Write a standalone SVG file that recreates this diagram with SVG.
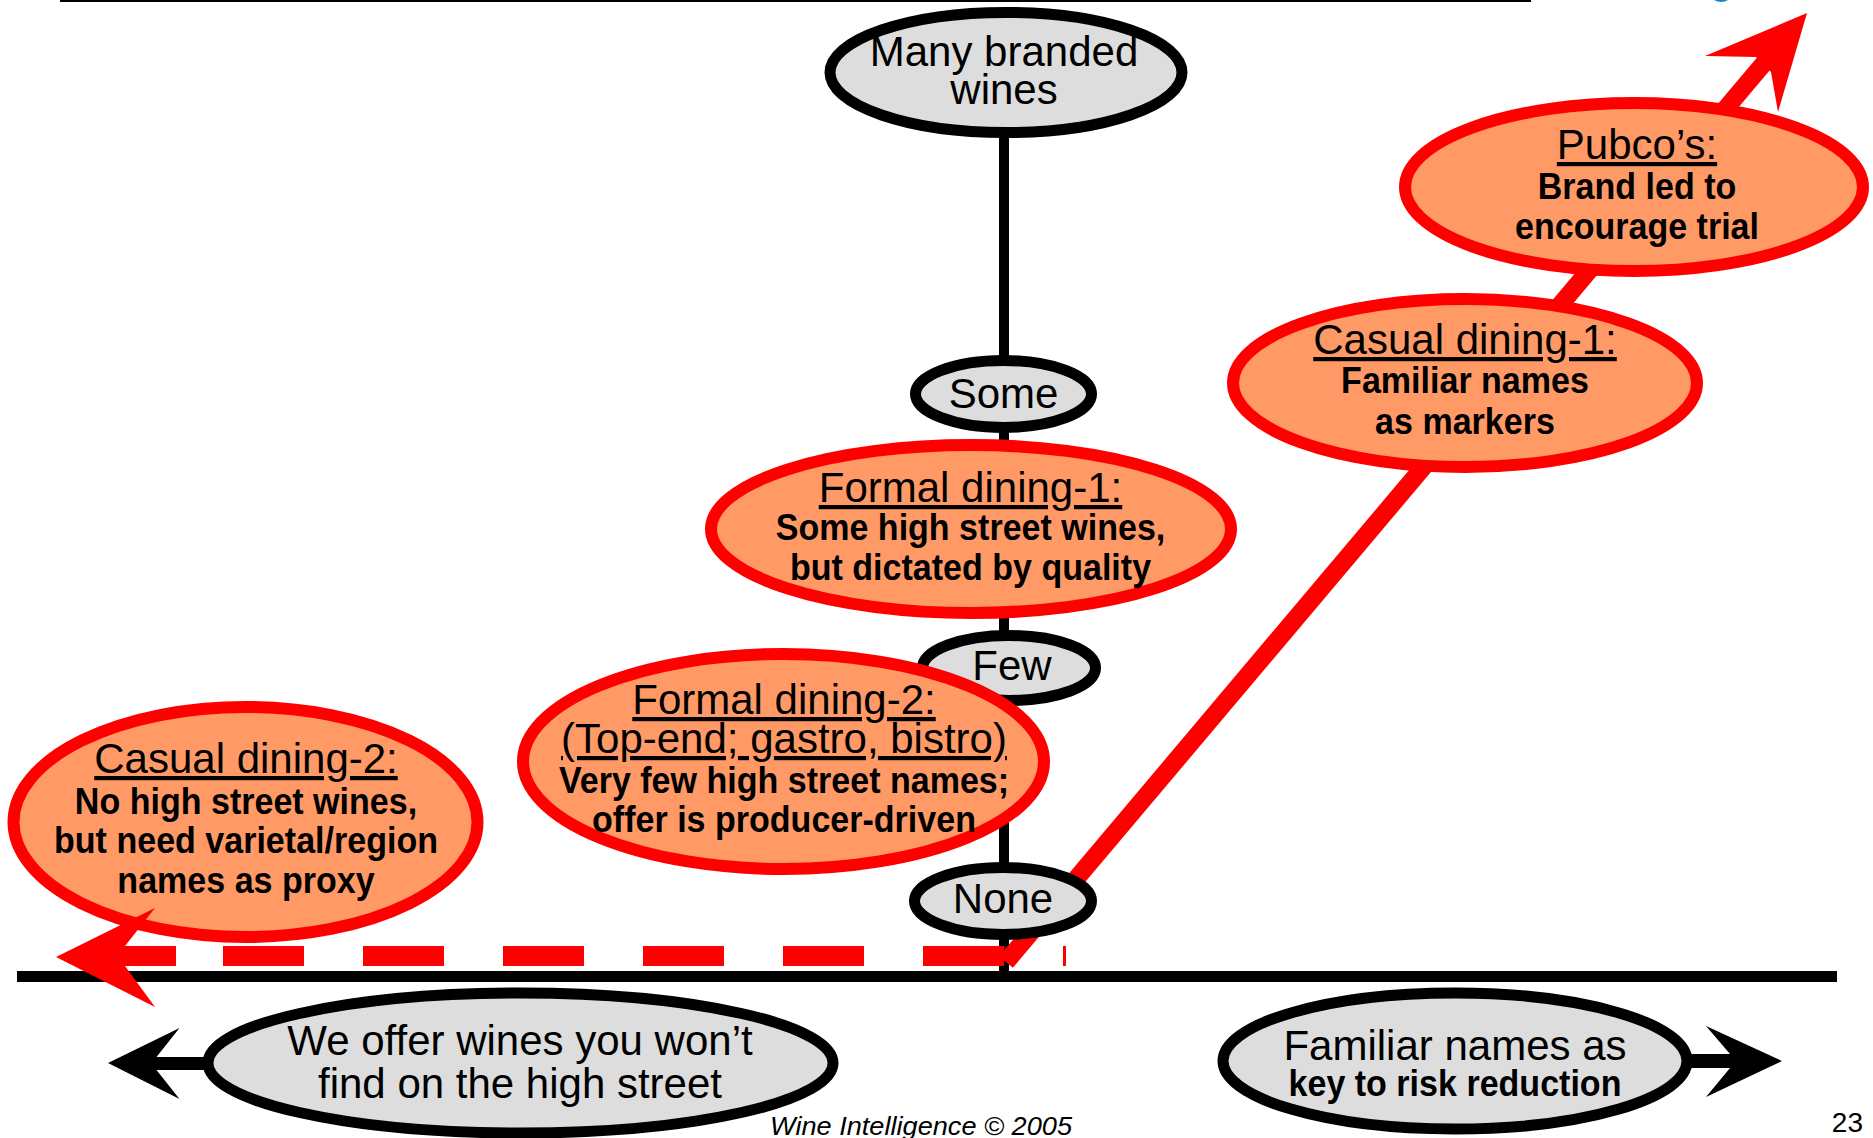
<svg xmlns="http://www.w3.org/2000/svg" width="1873" height="1138" viewBox="0 0 1873 1138">
  <style>
    .t { font-family: "Liberation Sans", Arial, Helvetica, sans-serif; text-anchor: middle; fill: #000; }
    .r { font-size: 42px; }
    .u { font-size: 42px; text-decoration: underline; }
    .b { font-size: 37px; font-weight: bold; }
    .grey { fill: #dddddd; stroke: #000; stroke-width: 11; }
    .warm { fill: #ff9966; stroke: #ff0000; stroke-width: 12; }
    .axis { stroke: #000; fill: none; }
    .red { stroke: #ff0000; fill: none; }
  </style>

  <rect width="1873" height="1138" fill="#fff"/>

  <!-- header rule and corner logo edge -->
  <rect x="60" y="0" width="1471" height="2" fill="#000"/>
  <ellipse cx="1721" cy="-11" rx="13" ry="13" fill="#1a86c4"/>

  <!-- Casual dining-2 sits below the dashed arrow -->
  <g id="casual-dining-2">
    <ellipse class="warm" cx="245.5" cy="822" rx="232" ry="115"/>
    <text class="t u" x="246" y="773">Casual dining-2:</text>
    <text class="t b" transform="translate(246 814) scale(0.92 1)">No high street wines,</text>
    <text class="t b" transform="translate(246 853) scale(0.92 1)">but need varietal/region</text>
    <text class="t b" transform="translate(246 893) scale(0.92 1)">names as proxy</text>
  </g>

  <g id="connectors">
    <!-- vertical scale -->
    <line class="axis" x1="1004" y1="100" x2="1004" y2="976" stroke-width="10"/>
    <!-- horizontal axis -->
    <line class="axis" x1="17" y1="976.5" x2="1837" y2="976.5" stroke-width="11"/>
    <!-- left and right axis arrows -->
    <polygon points="108,1063 179.5,1028 156.5,1057 230,1057 230,1070 156.5,1070 179.5,1099" fill="#000"/>
    <polygon points="1782,1061 1706,1026 1730,1054 1670,1054 1670,1068 1730,1068 1706,1097" fill="#000"/>
    <!-- rising red path -->
    <line class="red" x1="1006" y1="962" x2="1765" y2="62" stroke-width="18"/>
    <polygon points="1807,13 1705,56 1756,57 1771,72 1778,112" fill="#ff0000"/>
    <!-- dashed red path to the left -->
    <path class="red" d="M83 956 H1066" stroke-width="20" stroke-dasharray="81 59"/>
    <polygon points="56,957 155,908 125,946 176,946 176,966 125,966 155,1007" fill="#ff0000"/>
  </g>

  <g id="many-branded">
    <ellipse class="grey" cx="1006" cy="72.5" rx="176" ry="60"/>
    <text class="t r" x="1004" y="66">Many branded</text>
    <text class="t r" x="1004" y="104">wines</text>
  </g>

  <g id="some">
    <ellipse class="grey" cx="1003.5" cy="394" rx="88" ry="33.5"/>
    <text class="t r" x="1003.5" y="408">Some</text>
  </g>

  <g id="few">
    <ellipse class="grey" cx="1009" cy="668" rx="86.5" ry="32.5"/>
    <text class="t r" x="1012" y="680">Few</text>
  </g>

  <g id="none">
    <ellipse class="grey" cx="1003" cy="901" rx="88.5" ry="33.5"/>
    <text class="t r" x="1003" y="913">None</text>
  </g>

  <g id="formal-dining-2">
    <ellipse class="warm" cx="783.5" cy="761.5" rx="260.5" ry="107.5"/>
    <text class="t u" x="784" y="714">Formal dining-2:</text>
    <text class="t u" x="784" y="753">(Top-end; gastro, bistro)</text>
    <text class="t b" transform="translate(784 793) scale(0.92 1)">Very few high street names;</text>
    <text class="t b" transform="translate(784 832) scale(0.92 1)">offer is producer-driven</text>
  </g>

  <g id="formal-dining-1">
    <ellipse class="warm" cx="971" cy="529" rx="260" ry="84"/>
    <text class="t u" x="970.5" y="502">Formal dining-1:</text>
    <text class="t b" transform="translate(970.5 540) scale(0.92 1)">Some high street wines,</text>
    <text class="t b" transform="translate(970.5 580) scale(0.92 1)">but dictated by quality</text>
  </g>

  <g id="casual-dining-1">
    <ellipse class="warm" cx="1465" cy="383" rx="232" ry="84"/>
    <text class="t u" x="1465" y="354">Casual dining-1:</text>
    <text class="t b" transform="translate(1465 393) scale(0.92 1)">Familiar names</text>
    <text class="t b" transform="translate(1465 434) scale(0.92 1)">as markers</text>
  </g>

  <g id="pubcos">
    <ellipse class="warm" cx="1634" cy="187" rx="229" ry="84"/>
    <text class="t u" x="1637" y="159">Pubco’s:</text>
    <text class="t b" transform="translate(1637 199) scale(0.92 1)">Brand led to</text>
    <text class="t b" transform="translate(1637 239) scale(0.92 1)">encourage trial</text>
  </g>

  <g id="unfamiliar-end">
    <ellipse class="grey" stroke-width="12" cx="520.5" cy="1063" rx="312.5" ry="70"/>
    <text class="t r" x="520" y="1055">We offer wines you won’t</text>
    <text class="t r" x="520" y="1098">find on the high street</text>
  </g>

  <g id="familiar-end">
    <ellipse class="grey" stroke-width="12" cx="1455" cy="1061" rx="232" ry="68"/>
    <text class="t r" x="1455" y="1060">Familiar names as</text>
    <text class="t b" transform="translate(1455 1096) scale(0.92 1)">key to risk reduction</text>
  </g>

  <!-- footer -->
  <text x="770" y="1135" font-family="Liberation Sans, Arial, sans-serif" font-style="italic" font-size="25" textLength="302" lengthAdjust="spacingAndGlyphs">Wine Intelligence © 2005</text>
  <text x="1863" y="1132" font-family="Liberation Sans, Arial, sans-serif" font-size="28" text-anchor="end">23</text>
</svg>
